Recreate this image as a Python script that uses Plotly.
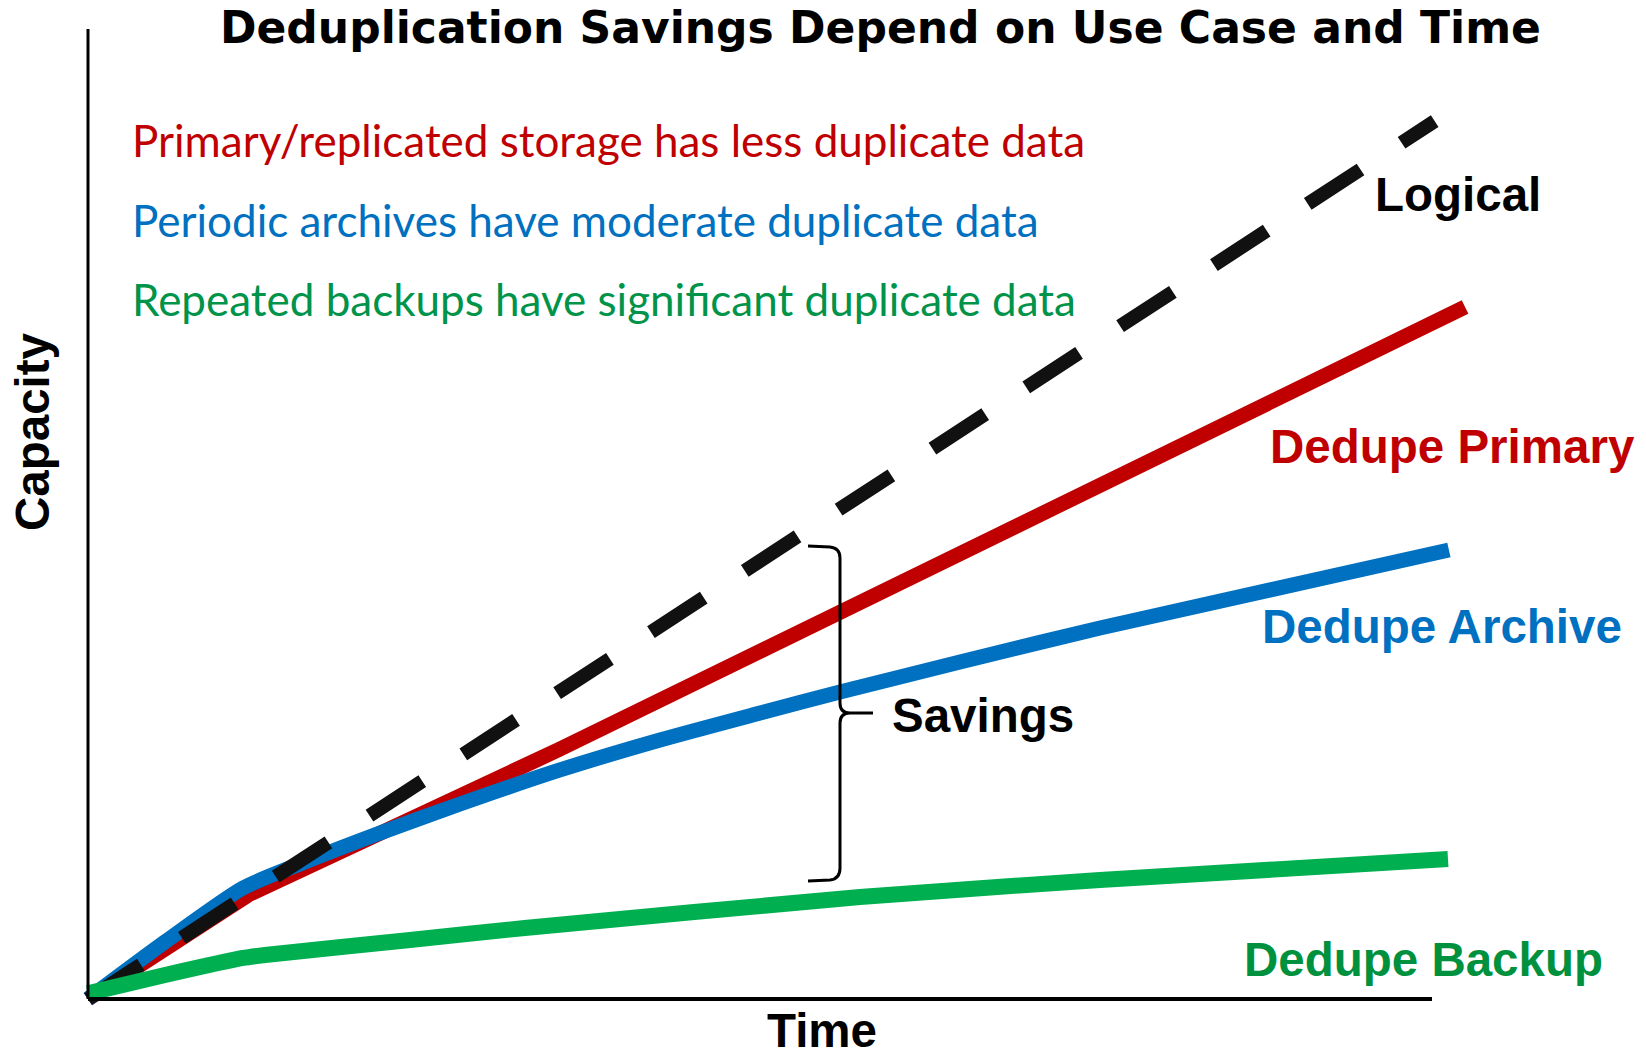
import plotly.graph_objects as go

# ---------------- data (time units, capacity units) ----------------
logical_t = [0.0, 10.02]
logical_c = [0.0, 9.05]

primary_t = [0.0, 0.61, 1.205, 3.512, 5.595, 10.246]
primary_c = [0.0, 0.557, 1.082, 2.577, 3.990, 7.134]

archive_t = [0.0, 0.573, 1.153, 1.577, 2.173, 2.768, 3.512, 4.256, 5.000, 5.595, 6.488, 7.530, 10.126]
archive_c = [0.0, 0.588, 1.144, 1.392, 1.711, 2.010, 2.361, 2.670, 2.948, 3.165, 3.474, 3.825, 4.629]

backup_t = [0.0, 0.573, 1.153, 1.317, 2.396, 3.250, 5.744, 7.530, 10.119]
backup_c = [0.06, 0.247, 0.423, 0.454, 0.608, 0.732, 1.052, 1.227, 1.443]

AXIS_T_MAX = 10.0
AXIS_C_MAX = 10.0

TITLE = "Deduplication Savings Depend on Use Case and Time"
NOTES = [
    ("Primary/replicated storage has less duplicate data", "#C00000"),
    ("Periodic archives have moderate duplicate data", "#0070C0"),
    ("Repeated backups have significant duplicate data", "#00934A"),
]

# ---------------- layout geometry (screen pixels) ----------------
W, H = 1646, 1057
PAGE_OFFSET = 0                  # body margin removed by post_script below
X0_PX, Y0_PX = 88, 999           # origin on screen
PX_PER_T, PX_PER_C = 134.4, 97.0


def tx(px):
    return (px - X0_PX) / PX_PER_T


def cy(py):
    return (Y0_PX - py) / PX_PER_C


fig = go.Figure()

fig.add_trace(go.Scatter(x=primary_t, y=primary_c, mode="lines",
                         line=dict(color="#C00000", width=15), hoverinfo="skip"))
fig.add_trace(go.Scatter(x=archive_t, y=archive_c, mode="lines",
                         line=dict(color="#0070C0", width=15, shape="spline", smoothing=0.7),
                         hoverinfo="skip"))
fig.add_trace(go.Scatter(x=logical_t, y=logical_c, mode="lines",
                         line=dict(color="#111111", width=14, dash="63px,49px"),
                         hoverinfo="skip"))
fig.add_trace(go.Scatter(x=backup_t, y=backup_c, mode="lines",
                         line=dict(color="#00B050", width=16, shape="spline", smoothing=0.5),
                         hoverinfo="skip"))

# axes lines
fig.add_shape(type="line", xref="x", yref="y", x0=0, y0=0, x1=0, y1=AXIS_C_MAX,
              line=dict(color="black", width=3))
fig.add_shape(type="line", xref="x", yref="y", x0=0, y0=0, x1=AXIS_T_MAX, y1=0,
              line=dict(color="black", width=4))

# savings bracket
bx_l, bx_m, bx_r = tx(808), tx(840), tx(873)
bl, br = tx(830), tx(850)
path = (
    f"M {bx_l},{cy(546)} L {bl},{cy(547)} Q {bx_m},{cy(548)} {bx_m},{cy(558)} "
    f"L {bx_m},{cy(703)} Q {bx_m},{cy(713)} {br},{cy(713)} L {bx_r},{cy(713)} "
    f"M {br},{cy(713)} Q {bx_m},{cy(713)} {bx_m},{cy(723)} "
    f"L {bx_m},{cy(868)} Q {bx_m},{cy(879)} {bl},{cy(880)} L {bx_l},{cy(881)}"
)
fig.add_shape(type="path", xref="x", yref="y", path=path,
              line=dict(color="black", width=3))

ARIAL = "Liberation Sans, Arial, sans-serif"
GILL = "Lato, Open Sans, sans-serif"
TITLE_FONT = "DejaVu Sans, Verdana, sans-serif"


def label(text, xpx, ypx, color, size=47.5, xanchor="left", family=ARIAL,
          weight="bold", angle=0):
    fig.add_annotation(x=tx(xpx), y=cy(ypx), xref="x", yref="y", text=text,
                       showarrow=False, xanchor=xanchor, yanchor="middle",
                       textangle=angle,
                       font=dict(family=family, size=size, color=color, weight=weight))


label(TITLE, 880, 27, "black", size=44, xanchor="center", family=TITLE_FONT)
for i, (txt, col) in enumerate(NOTES):
    label(txt, 130, 140 + i * 79.5, col, size=44, family=GILL, weight="normal")

label("Logical", 1373, 194, "black")
label("Dedupe Primary", 1268, 446, "#C00000")
label("Dedupe Archive", 1260, 626, "#0070C0")
label("Dedupe Backup", 1242, 959, "#00913F")
label("Savings", 890, 715, "black")
label("Time", 822, 1030, "black", xanchor="center")
label("Capacity", 32, 432, "black", xanchor="center", angle=-90)

fig.update_layout(
    width=W, height=H,
    margin=dict(l=0, r=0, t=0, b=0),
    paper_bgcolor="white", plot_bgcolor="white",
    showlegend=False,
    xaxis=dict(range=[tx(PAGE_OFFSET), tx(PAGE_OFFSET + W)], visible=False, fixedrange=True),
    yaxis=dict(range=[cy(PAGE_OFFSET + H), cy(PAGE_OFFSET)], visible=False, fixedrange=True),
)

fig.write_html("out.html",
               config={"displayModeBar": False, "staticPlot": True},
               post_script="document.body.style.margin='0';document.body.style.overflow='hidden';")
